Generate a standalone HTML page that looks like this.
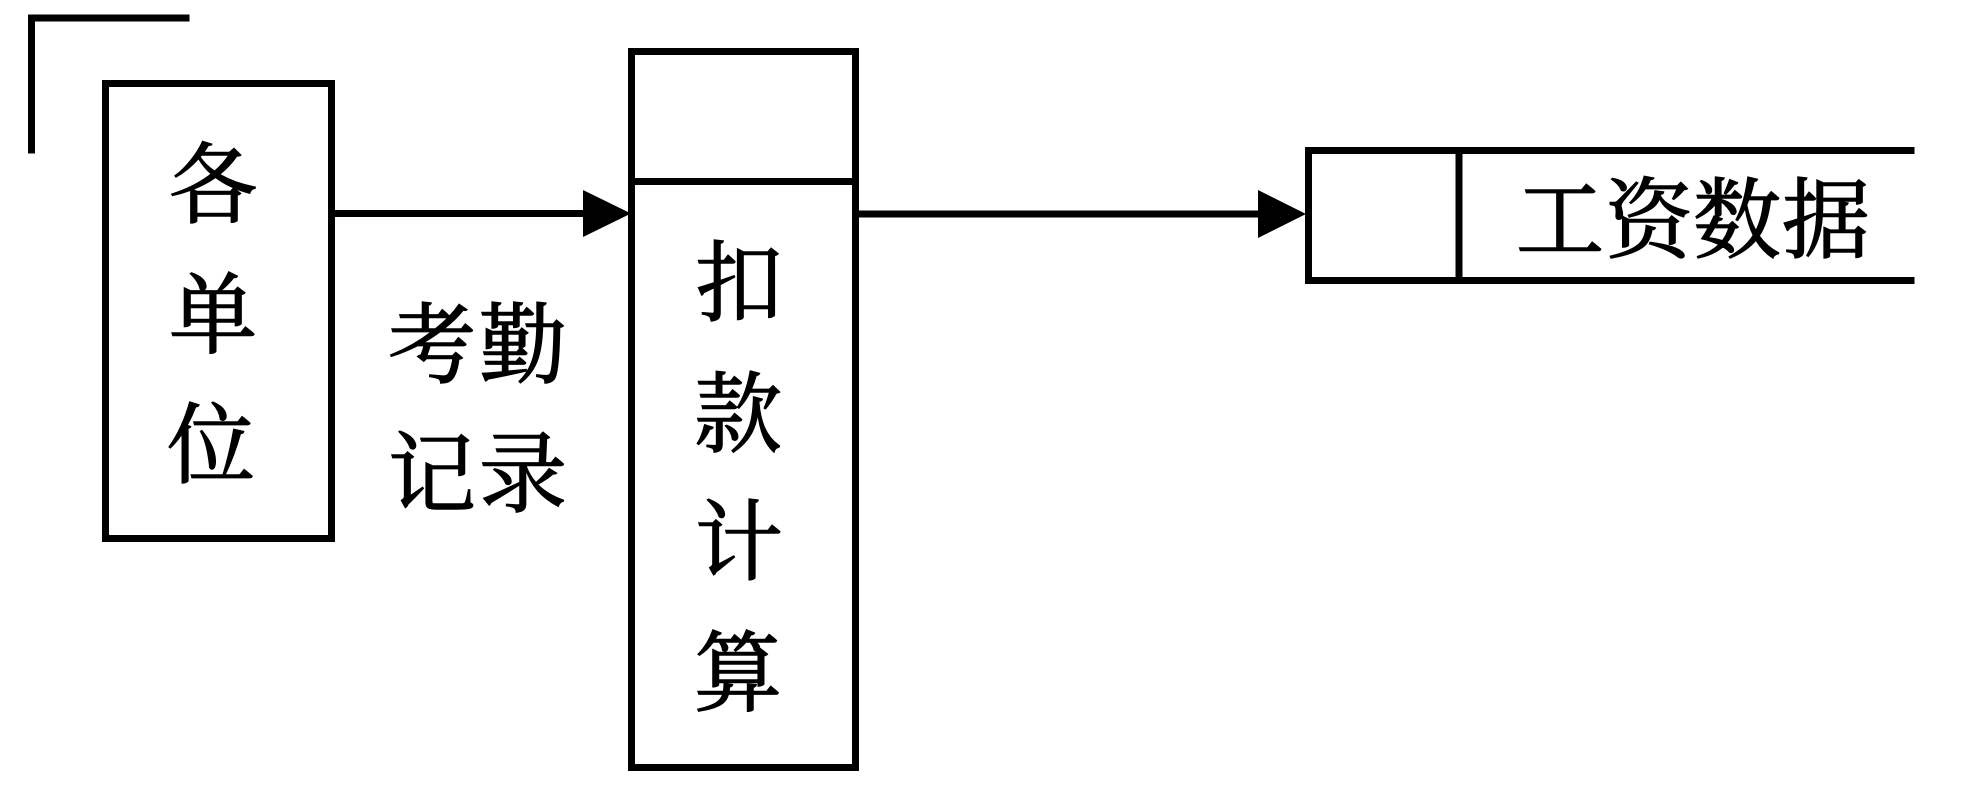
<!DOCTYPE html>
<html>
<head>
<meta charset="utf-8">
<style>
  html, body { margin:0; padding:0; background:#fff; }
  body { width:1968px; height:808px; overflow:hidden; }
  svg { display:block; }
  text { font-family: "Liberation Serif", "Noto Serif CJK SC", "Noto Sans CJK SC", serif; font-size:88px; fill:#000; stroke:#000; stroke-width:1.4px; text-anchor:middle; }
</style>
</head>
<body>
<svg width="1968" height="808" viewBox="0 0 1968 808" xmlns="http://www.w3.org/2000/svg">
  <rect x="0" y="0" width="1968" height="808" fill="#fff"/>
  <g fill="none" stroke="#000" stroke-width="7" stroke-linecap="square">
    <!-- corner -->
    <polyline points="186,18 31.5,18 31.5,150"/>
    <!-- box 1 -->
    <rect x="105.5" y="83.5" width="226" height="455"/>
    <!-- box 2 -->
    <rect x="631.5" y="51.5" width="224" height="716"/>
    <line x1="631.5" y1="181.5" x2="855.5" y2="181.5"/>
    <!-- arrow lines -->
    <line x1="335" y1="213.5" x2="590" y2="213.5" stroke-linecap="butt"/>
    <line x1="859" y1="214" x2="1265" y2="214" stroke-linecap="butt"/>
    <!-- data store -->
    <polyline points="1911,150.5 1308.5,150.5 1308.5,280.5 1911,280.5"/>
    <line x1="1459" y1="150.5" x2="1459" y2="280.5"/>
  </g>
  <polygon points="583,190 631,213.5 583,237" fill="#000"/>
  <polygon points="1258,190 1306,214 1258,238" fill="#000"/>

  <text x="213" y="216">各</text>
  <text x="213" y="346">单</text>
  <text x="211" y="476">位</text>

  <text x="432" y="376">考</text>
  <text x="523" y="376">勤</text>
  <text x="432" y="505">记</text>
  <text x="523" y="505">录</text>

  <text x="739" y="314">扣</text>
  <text x="738" y="445">款</text>
  <text x="739" y="573">计</text>
  <text x="738" y="704">算</text>

  <text x="1560" y="251">工</text>
  <text x="1649" y="251">资</text>
  <text x="1737" y="251">数</text>
  <text x="1826" y="251">据</text>
</svg>
</body>
</html>
